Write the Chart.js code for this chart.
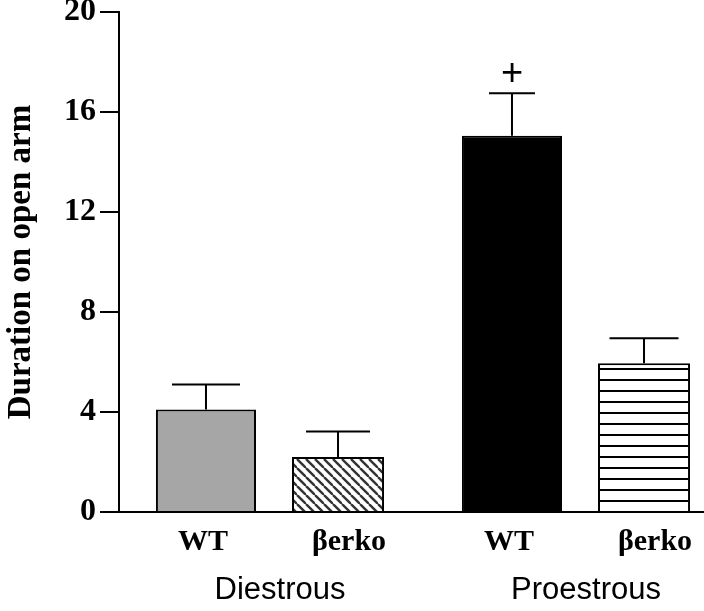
<!DOCTYPE html>
<html>
<head>
<meta charset="utf-8">
<script src="https://cdn.jsdelivr.net/npm/chart.js@4.4.0/dist/chart.umd.min.js"></script>
<style>
  html, body { margin: 0; padding: 0; background: #fff; overflow: hidden; }
  #wrap { width: 740px; height: 611px; }
</style>
</head>
<body>
<div id="wrap"><canvas id="barChart"></canvas></div>
<script>
var phases = ['Diestrous', 'Proestrous'];
var groups = ['WT', 'βerko'];
var wtMeans = [4.1, 15.05];
var wtErrors = [1.0, 1.7];
var koMeans = [2.2, 5.95];
var koErrors = [1.02, 1.0];
var wtMarks = ['', '+'];
var koMarks = ['', ''];
var yTicks = [0, 4, 8, 12, 16, 20];

// styling only
var capWidths = [[68, 46], [64, 69]];
var labelShift = [-3, 11];

var canvas = document.getElementById('barChart');
var ctx = canvas.getContext('2d');

function diagPattern() {
    var t = document.createElement('canvas');
    t.width = 9; t.height = 9;
    var g = t.getContext('2d');
    g.fillStyle = '#fff';
    g.fillRect(0, 0, 9, 9);
    g.strokeStyle = '#333';
    g.lineWidth = 2.4;
    [-9, 0, 9].forEach(function (k) {
        g.beginPath();
        g.moveTo(k, 0);
        g.lineTo(k + 9, 9);
        g.stroke();
    });
    return ctx.createPattern(t, 'repeat');
}

function stripePattern() {
    var t = document.createElement('canvas');
    t.width = 8; t.height = 11;
    var g = t.getContext('2d');
    g.fillStyle = '#fff';
    g.fillRect(0, 0, 8, 11);
    g.fillStyle = '#000';
    g.fillRect(0, 5, 8, 2);
    return ctx.createPattern(t, 'repeat');
}

var errorBars = {
    id: 'errorBars',
    afterDatasetsDraw: function (chart) {
        var g = chart.ctx, y = chart.scales.y;
        g.save();
        g.strokeStyle = '#000';
        g.lineWidth = 2;
        [wtErrors, koErrors].forEach(function (errs, i) {
            var vals = chart.data.datasets[i].data;
            chart.getDatasetMeta(i).data.forEach(function (bar, j) {
                var top = y.getPixelForValue(vals[j] + errs[j]);
                var half = capWidths[i][j] / 2;
                g.beginPath();
                g.moveTo(bar.x, bar.y);
                g.lineTo(bar.x, top);
                g.moveTo(bar.x - half, top);
                g.lineTo(bar.x + half, top);
                g.stroke();
            });
        });
        g.restore();
    }
};

var barLabels = {
    id: 'barLabels',
    afterDraw: function (chart) {
        var g = chart.ctx, y = chart.scales.y, area = chart.chartArea;
        g.save();
        g.fillStyle = '#000';
        g.textAlign = 'center';
        g.textBaseline = 'alphabetic';
        [wtMarks, koMarks].forEach(function (marks, i) {
            var vals = chart.data.datasets[i].data;
            var errs = i === 0 ? wtErrors : koErrors;
            chart.getDatasetMeta(i).data.forEach(function (bar, j) {
                g.font = 'bold 30px "Liberation Serif"';
                g.fillText(groups[i], bar.x + labelShift[i], area.bottom + 38);
                if (marks[j]) {
                    g.font = '38px "Liberation Sans"';
                    g.fillText(marks[j], bar.x, y.getPixelForValue(vals[j] + errs[j]) - 8);
                }
            });
        });
        g.restore();
    }
};

new Chart(ctx, {
    type: 'bar',
    data: {
        labels: phases,
        datasets: [
            {
                label: groups[0],
                data: wtMeans,
                backgroundColor: ['#a6a6a6', '#000000'],
                borderColor: '#000',
                borderWidth: 2,
                barPercentage: 0.758,
                categoryPercentage: 0.863
            },
            {
                label: groups[1],
                data: koMeans,
                backgroundColor: [diagPattern(), stripePattern()],
                borderColor: '#000',
                borderWidth: 2,
                barPercentage: 0.697,
                categoryPercentage: 0.863
            }
        ]
    },
    options: {
        responsive: true,
        maintainAspectRatio: false,
        animation: false,
        layout: { padding: { top: 12, right: 9, bottom: 0, left: 0 } },
        plugins: {
            legend: { display: false },
            tooltip: { enabled: false }
        },
        scales: {
            x: {
                grid: { drawOnChartArea: false, drawTicks: false },
                border: { color: '#000', width: 2 },
                ticks: {
                    color: '#000',
                    font: { family: 'Liberation Sans', size: 31 },
                    padding: 60,
                    labelOffset: 8
                },
                afterFit: function (s) { s.height = 99; s.paddingLeft = 0; s.paddingRight = 0; }
            },
            y: {
                min: 0,
                max: 20,
                afterBuildTicks: function (s) {
                    s.ticks = yTicks.map(function (v) { return { value: v }; });
                },
                grid: { drawOnChartArea: false, color: '#000', lineWidth: 2, tickLength: 19 },
                border: { color: '#000', width: 2 },
                ticks: {
                    color: '#000',
                    font: { family: 'Liberation Serif', size: 32, weight: 'bold' },
                    padding: 4
                },
                title: {
                    display: true,
                    text: 'Duration on open arm',
                    color: '#000',
                    font: { family: 'Liberation Serif', size: 33, weight: 'bold' },
                    padding: 2
                },
                afterFit: function (s) { s.width = 119; s.paddingTop = 0; s.paddingBottom = 0; }
            }
        }
    },
    plugins: [errorBars, barLabels]
});
</script>
</body>
</html>
